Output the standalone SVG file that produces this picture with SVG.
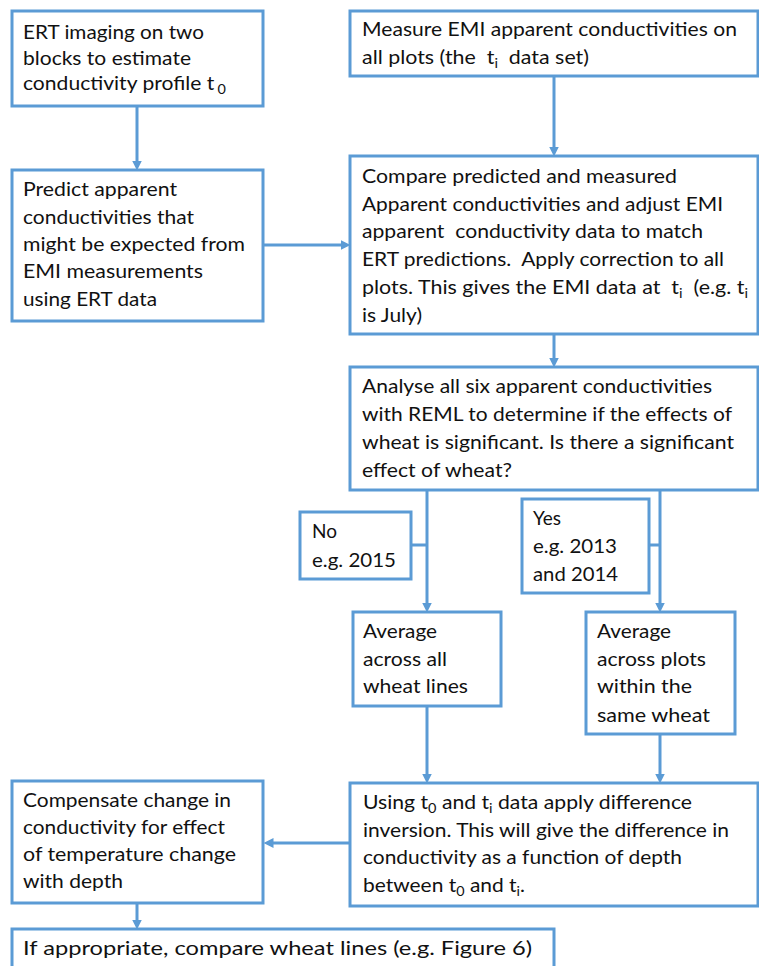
<svg xmlns="http://www.w3.org/2000/svg" width="759" height="966" viewBox="0 0 759 966">
<style>
.box{fill:#fff;stroke:#5b9bd5;stroke-width:3}
.con{fill:none;stroke:#5b9bd5;stroke-width:3}
text{font-family:Lato,"Liberation Sans",sans-serif;font-size:19px;fill:#111}
.s{font-size:13px}
</style>
<defs>
<marker id="ah" markerUnits="userSpaceOnUse" markerWidth="10" markerHeight="10" viewBox="0 0 8 8" refX="2" refY="4" orient="auto">
<path d="M0,0 L8,4 L0,8 z" fill="#5b9bd5"/>
</marker>
</defs>
<rect width="759" height="966" fill="#fff"/>
<g id="connectors">
<line class="con" x1="137" y1="106" x2="137" y2="163" marker-end="url(#ah)"/>
<line class="con" x1="263" y1="245" x2="343" y2="245" marker-end="url(#ah)"/>
<line class="con" x1="554" y1="76" x2="554" y2="149" marker-end="url(#ah)"/>
<line class="con" x1="554" y1="334" x2="554" y2="360" marker-end="url(#ah)"/>
<line class="con" x1="427" y1="490" x2="427" y2="605" marker-end="url(#ah)"/>
<line class="con" x1="660" y1="490" x2="660" y2="605" marker-end="url(#ah)"/>
<line class="con" x1="411" y1="545" x2="427" y2="545"/>
<line class="con" x1="649" y1="545" x2="660" y2="545"/>
<line class="con" x1="427" y1="706" x2="427" y2="776" marker-end="url(#ah)"/>
<line class="con" x1="660" y1="734" x2="660" y2="776" marker-end="url(#ah)"/>
<line class="con" x1="350" y1="843" x2="271" y2="843" marker-end="url(#ah)"/>
<line class="con" x1="137" y1="903" x2="137" y2="922" marker-end="url(#ah)"/>
</g>
<g id="n-ert">
<rect class="box" x="12" y="11" width="251" height="95"/>
<text x="23" y="39" textLength="181" lengthAdjust="spacingAndGlyphs">ERT imaging on two</text>
<text x="23" y="65" textLength="168" lengthAdjust="spacingAndGlyphs">blocks to estimate</text>
<text x="23" y="90" textLength="203" lengthAdjust="spacingAndGlyphs">conductivity profile t<tspan class="s" dx="3" dy="4">0</tspan></text>
</g>
<g id="n-measure">
<rect class="box" x="350" y="11" width="408" height="65"/>
<text x="362" y="36" textLength="375" lengthAdjust="spacingAndGlyphs">Measure EMI apparent conductivities on</text>
<text x="362" y="64" textLength="227" lengthAdjust="spacingAndGlyphs">all plots (the &#160;t<tspan class="s" dy="4">i</tspan><tspan dy="-4"> &#160;data set)</tspan></text>
</g>
<g id="n-predict">
<rect class="box" x="12" y="170" width="251" height="151"/>
<text x="23" y="196" textLength="154" lengthAdjust="spacingAndGlyphs">Predict apparent</text>
<text x="23" y="224" textLength="171" lengthAdjust="spacingAndGlyphs">conductivities that</text>
<text x="23" y="251" textLength="222" lengthAdjust="spacingAndGlyphs">might be expected from</text>
<text x="23" y="278" textLength="180" lengthAdjust="spacingAndGlyphs">EMI measurements</text>
<text x="23" y="306" textLength="134" lengthAdjust="spacingAndGlyphs">using ERT data</text>
</g>
<g id="n-compare">
<rect class="box" x="350" y="156" width="408" height="178"/>
<text x="362" y="183" textLength="315" lengthAdjust="spacingAndGlyphs">Compare predicted and measured</text>
<text x="362" y="211" textLength="361" lengthAdjust="spacingAndGlyphs">Apparent conductivities and adjust EMI</text>
<text x="362" y="238" textLength="341" lengthAdjust="spacingAndGlyphs">apparent &#160;conductivity data to match</text>
<text x="362" y="266" textLength="362" lengthAdjust="spacingAndGlyphs">ERT predictions. &#160;Apply correction to all</text>
<text x="362" y="294" textLength="386" lengthAdjust="spacingAndGlyphs">plots. This gives the EMI data at &#160;t<tspan class="s" dy="4">i</tspan><tspan dy="-4"> &#160;(e.g. t</tspan><tspan class="s" dy="4">i</tspan></text>
<text x="362" y="322" textLength="60" lengthAdjust="spacingAndGlyphs">is July)</text>
</g>
<g id="n-analyse">
<rect class="box" x="350" y="367" width="408" height="123"/>
<text x="362" y="393" textLength="350" lengthAdjust="spacingAndGlyphs">Analyse all six apparent conductivities</text>
<text x="362" y="421" textLength="370" lengthAdjust="spacingAndGlyphs">with REML to determine if the effects of</text>
<text x="362" y="449" textLength="372" lengthAdjust="spacingAndGlyphs">wheat is significant. Is there a significant</text>
<text x="362" y="477" textLength="150" lengthAdjust="spacingAndGlyphs">effect of wheat?</text>
</g>
<g id="n-no">
<rect class="box" x="300" y="512" width="111" height="67"/>
<text x="312" y="538">No</text>
<text x="312" y="567" textLength="84" lengthAdjust="spacingAndGlyphs">e.g. 2015</text>
</g>
<g id="n-yes">
<rect class="box" x="522" y="499" width="127" height="94"/>
<text x="533" y="525">Yes</text>
<text x="533" y="553" textLength="84" lengthAdjust="spacingAndGlyphs">e.g. 2013</text>
<text x="533" y="581" textLength="85" lengthAdjust="spacingAndGlyphs">and 2014</text>
</g>
<g id="n-avg-all">
<rect class="box" x="353" y="612" width="148" height="94"/>
<text x="363" y="638" textLength="74" lengthAdjust="spacingAndGlyphs">Average</text>
<text x="363" y="666" textLength="84" lengthAdjust="spacingAndGlyphs">across all</text>
<text x="363" y="693" textLength="105" lengthAdjust="spacingAndGlyphs">wheat lines</text>
</g>
<g id="n-avg-plots">
<rect class="box" x="586" y="612" width="149" height="122"/>
<text x="597" y="638" textLength="74" lengthAdjust="spacingAndGlyphs">Average</text>
<text x="597" y="666" textLength="109" lengthAdjust="spacingAndGlyphs">across plots</text>
<text x="597" y="693" textLength="95" lengthAdjust="spacingAndGlyphs">within the</text>
<text x="597" y="722" textLength="113" lengthAdjust="spacingAndGlyphs">same wheat</text>
</g>
<g id="n-using">
<rect class="box" x="350" y="783" width="408" height="123"/>
<text x="363" y="809" textLength="329" lengthAdjust="spacingAndGlyphs">Using t<tspan class="s" dy="4">0</tspan><tspan dy="-4"> and t</tspan><tspan class="s" dy="4">i</tspan><tspan dy="-4"> data apply difference</tspan></text>
<text x="363" y="837" textLength="366" lengthAdjust="spacingAndGlyphs">inversion. This will give the difference in</text>
<text x="363" y="864" textLength="319" lengthAdjust="spacingAndGlyphs">conductivity as a function of depth</text>
<text x="363" y="892" textLength="162" lengthAdjust="spacingAndGlyphs">between t<tspan class="s" dy="4">0</tspan><tspan dy="-4"> and t</tspan><tspan class="s" dy="4">i</tspan><tspan dy="-4">.</tspan></text>
</g>
<g id="n-compensate">
<rect class="box" x="12" y="781" width="251" height="122"/>
<text x="23" y="807" textLength="208" lengthAdjust="spacingAndGlyphs">Compensate change in</text>
<text x="23" y="834" textLength="202" lengthAdjust="spacingAndGlyphs">conductivity for effect</text>
<text x="23" y="861" textLength="213" lengthAdjust="spacingAndGlyphs">of temperature change</text>
<text x="23" y="888" textLength="100" lengthAdjust="spacingAndGlyphs">with depth</text>
</g>
<g id="n-compare-wheat">
<rect class="box" x="12" y="929" width="542" height="50"/>
<text x="23" y="955" textLength="509" lengthAdjust="spacingAndGlyphs">If appropriate, compare wheat lines (e.g. Figure 6)</text>
</g>
</svg>
